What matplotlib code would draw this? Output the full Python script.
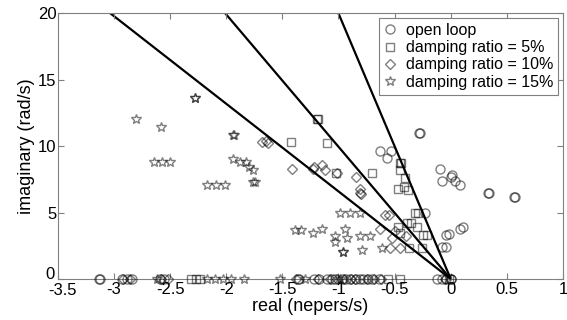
import matplotlib.pyplot as plt
import matplotlib.transforms as mtransforms
import numpy as np

plt.rcParams['font.family'] = ['Liberation Sans', 'DejaVu Sans']

# closed-loop pole locations (real, imag)
open_re = [-0.28, -0.27, -0.63, -0.57, -0.53, -0.10, -0.08, 0.00, 0.01, 0.04, 0.08, 0.33, 0.34,
           0.56, 0.57, -0.23, -0.04, -0.02, 0.08, 0.11, -0.08, -0.04,
           -3.13, -3.12, -2.93, -2.88, -2.84, -2.59, -2.55, -1.36, -1.35, -1.22, -1.17, -1.10,
           -1.06, -1.03, -0.97, -0.93, -0.90, -0.84, -0.81, -0.78, -0.74, -0.70, -0.64,
           -0.12, -0.08, -0.04, 0.00, 0.00]
open_im = [11.0, 11.0, 9.6, 9.1, 9.6, 8.3, 7.4, 7.7, 7.8, 7.4, 7.1, 6.5, 6.5,
           6.2, 6.2, 5.0, 3.3, 3.4, 3.8, 3.9, 2.4, 2.4,
           0, 0, 0, 0, 0, 0, 0, 0, 0, 0, 0, 0,
           0, 0, 0, 0, 0, 0, 0, 0, 0, 0, 0,
           0, 0, 0, 0, 0]

d5_re = [-1.19, -1.18, -1.42, -1.10, -1.02, -0.70, -0.45, -0.44, -0.45, -0.41, -0.42, -0.38,
         -0.47, -0.32, -0.29, -0.47, -0.30, -0.21, -0.25, -0.37, -0.26, -0.45, -0.39, -0.35,
         -2.31, -2.27, -2.23, -0.56, -0.45, -0.02]
d5_im = [12.0, 12.0, 10.3, 10.2, 8.0, 8.0, 8.7, 8.7, 8.2, 7.6, 6.9, 6.7,
         6.8, 5.0, 5.0, 3.9, 3.9, 3.3, 3.3, 2.3, 2.3, 3.5, 4.2, 4.2,
         0, 0, 0, 0, 0, 0]

d10_re = [-1.68, -1.65, -1.63, -1.41, -1.23, -1.22, -1.15, -1.12, -1.01, -0.84, -0.81, -0.81,
          -0.80, -0.59, -0.55, -0.63, -0.52, -0.54, -0.45, -0.50, -0.40,
          -2.92, -2.86, -2.58, -2.52, -1.38, -1.18, -1.08, -1.01, -0.95, -0.89, -0.85,
          -0.75, -0.68, -0.62, -0.05]
d10_im = [10.3, 10.4, 10.2, 8.3, 8.3, 8.4, 8.6, 8.2, 8.0, 7.7, 6.8, 6.5,
          6.4, 4.8, 4.8, 3.8, 3.1, 2.3, 2.3, 3.6, 3.2,
          0, 0, 0, 0, 0, 0, 0, 0, 0, 0, 0,
          0, 0, 0, 0]

d15_re = [-2.28, -2.28, -2.80, -2.58, -1.94, -1.93, -2.64, -2.57, -2.50, -2.17, -2.09, -2.01,
          -1.94, -1.88, -1.82, -1.80, -1.76, -1.76, -1.74, -0.99, -0.90, -0.81,
          -1.39, -1.33, -1.23, -1.15, -0.94, -1.03, -1.03, -0.92, -0.81, -0.72,
          -0.96, -0.96, -0.79, -0.61,
          -2.62, -2.17, -2.10, -2.03, -1.96, -1.84, -1.52, -1.30, -0.99]
d15_im = [13.6, 13.6, 12.0, 11.4, 10.8, 10.8, 8.8, 8.8, 8.8, 7.1, 7.1, 7.1,
          9.0, 8.8, 8.8, 8.4, 8.2, 7.3, 7.3, 5.0, 5.0, 5.0,
          3.7, 3.7, 3.5, 3.8, 3.8, 3.2, 2.8, 3.1, 3.2, 3.2,
          2.0, 2.0, 2.2, 2.3,
          0, 0, 0, 0, 0, 0, 0, 0, 0]

damping = [0.05, 0.10, 0.15]
wn = np.linspace(0, 25, 2)

fig = plt.figure(figsize=(5.67, 3.2), dpi=100)
ax = fig.add_axes([0.102, 0.128, 0.891, 0.831])

for z in damping:
    ax.plot(-z * wn, wn * np.sqrt(1 - z ** 2), color='black', lw=1.6, zorder=1)

mk = dict(linestyle='none', markerfacecolor='none', markeredgecolor=(0, 0, 0, 0.5),
          markeredgewidth=1.0, zorder=3, clip_on=False)
ax.plot(open_re, open_im, marker='o', markersize=6.5, label='open loop', **mk)
ax.plot(d5_re, d5_im, marker='s', markersize=6, label='damping ratio = 5%', **mk)
ax.plot(d10_re, d10_im, marker='D', markersize=5.5, label='damping ratio = 10%', **mk)
ax.plot(d15_re, d15_im, marker='*', markersize=7.5, label='damping ratio = 15%', **mk)

ax.set_xlim(-3.5, 1)
ax.set_ylim(0, 20)
ax.set_xticks(np.arange(-3.5, 1.01, 0.5))
ax.set_xticklabels(['-3.5', '-3', '-2.5', '-2', '-1.5', '-1', '-0.5', '0', '0.5', '1'])
ax.set_yticks([0, 5, 10, 15, 20])
ax.tick_params(direction='in', top=True, right=True, labelsize=12, length=4,
               color='0.5', pad=2)
ax.tick_params(axis='y', pad=1)
for s in ax.spines.values():
    s.set_color('0.5')

# "0" and "-3.5" sit on top of each other at the corner; pull them apart a little
fig.canvas.draw()
ylab0 = ax.get_yticklabels()[0]
ylab0.set_transform(ylab0.get_transform() +
                    mtransforms.ScaledTranslation(-1 / 72, 4 / 72, fig.dpi_scale_trans))
xlab0 = ax.get_xticklabels()[0]
xlab0.set_transform(xlab0.get_transform() +
                    mtransforms.ScaledTranslation(3 / 72, -1 / 72, fig.dpi_scale_trans))

ax.set_xlabel('real (nepers/s)', fontsize=13, labelpad=0)
ax.set_ylabel('imaginary (rad/s)', fontsize=13, labelpad=2)

leg = ax.legend(loc='upper right', fontsize=11.5, fancybox=False, framealpha=1,
                edgecolor='0.5', handlelength=0.8, handletextpad=0.6, labelspacing=0.15,
                borderpad=0.3, borderaxespad=0.3)
leg.get_frame().set_linewidth(0.8)
leg.set_zorder(5)

fig.savefig('out.png', dpi=100)
